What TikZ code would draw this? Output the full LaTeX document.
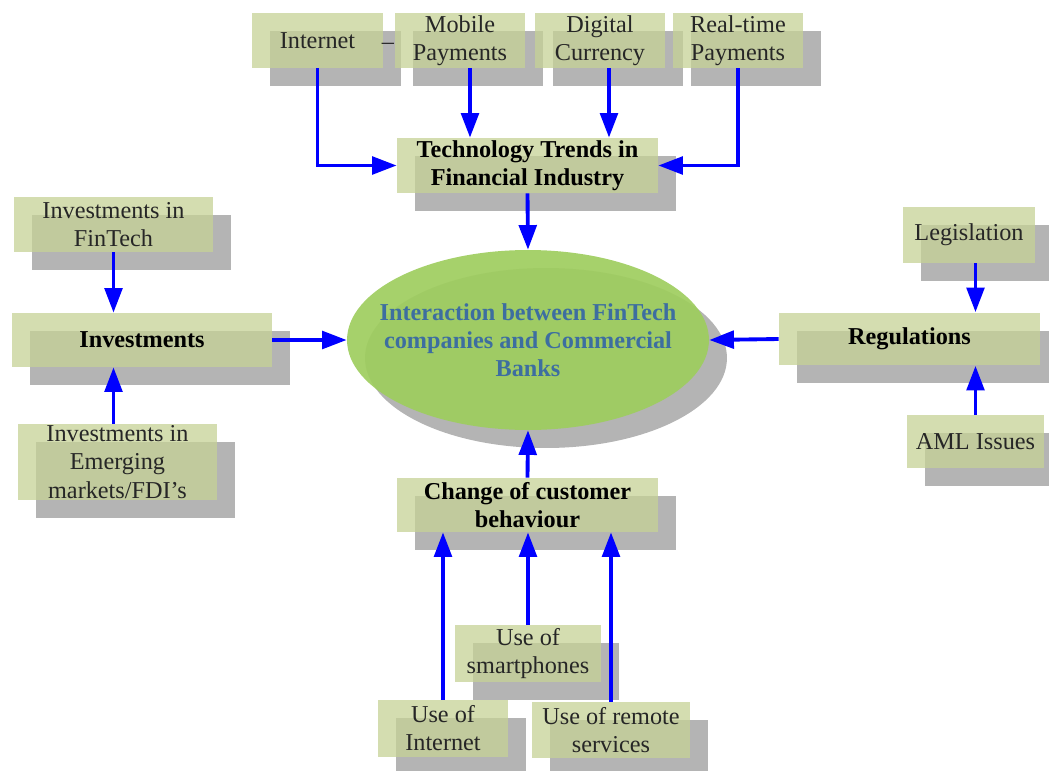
\documentclass[tikz,border=0pt]{standalone}
\usepackage{fontspec}
\setmainfont{Liberation Serif}
\usetikzlibrary{shapes.geometric, arrows.meta, shadows}
\definecolor{BoxGreen}{HTML}{C6D296}
\definecolor{ShadowGray}{HTML}{B4B4B4}
\definecolor{CoreGreen}{HTML}{9ECD5E}
\definecolor{CoreBlue}{HTML}{3D6EA0}
\definecolor{FlowBlue}{HTML}{0000FF}

\begin{document}
\begin{tikzpicture}[x=0.02cm, y=-0.02cm, font=\fontsize{13.8}{16}\selectfont,
    box/.style={fill=BoxGreen, fill opacity=0.75, text opacity=1, text=black!85,
      align=center, inner sep=0pt, minimum height=1.1cm,
      general shadow={fill=ShadowGray, fill opacity=1, shadow xshift=0.36cm, shadow yshift=-0.36cm}},
    hub/.style={box, text=black, font=\fontsize{13.8}{16}\selectfont\bfseries},
    core/.style={ellipse, fill=CoreGreen, fill opacity=0.92, inner sep=0pt,
      minimum width=7.24cm, minimum height=3.6cm,
      general shadow={fill=ShadowGray, fill opacity=1, shadow xshift=0.36cm, shadow yshift=-0.36cm}},
    flow/.style={draw=FlowBlue, line width=2.2pt, -{Triangle[length=14pt, width=10pt]}}]
  \path[use as bounding box, clip] (0,0) rectangle (1049,771);

  \node[box, minimum width=2.62cm] (internet) at (317.5,40.5) {Internet};
  \node[text=black!85, inner sep=0pt] (dash) at (388,46) {–};
  \node[box, minimum width=2.6cm] (mobile) at (460,40.5) {Mobile\\Payments};
  \node[box, minimum width=2.6cm] (digital) at (600,40.5) {Digital\\Currency};
  \node[box, minimum width=2.6cm] (realtime) at (738,40.5) {Real-time\\Payments};
  \node[hub, minimum width=5.22cm] (tech) at (527.5,165.5) {Technology Trends in\\Financial Industry};

  \node[core] (hubcore) at (528,340) {};
  \node[text=CoreBlue, align=center, font=\fontsize{13.8}{16}\selectfont\bfseries] (coretext) at (hubcore) {Interaction between FinTech\\companies and Commercial\\Banks};

  \node[box, minimum width=3.98cm] (fintech) at (113.5,224.5) {Investments in\\FinTech};
  \node[hub, minimum width=5.2cm, minimum height=1.08cm] (invest) at (142,340) {Investments};
  \node[box, minimum width=3.98cm, inner ysep=1pt] (emerging) at (117.5,462) {Investments in\\Emerging\\markets/FDI's};

  \node[box, minimum width=2.64cm, minimum height=1.12cm] (legislation) at (969,235) {Legislation};
  \node[hub, minimum width=5.22cm, minimum height=1.06cm] (reg) at (909.5,339) {Regulations};
  \node[box, minimum width=2.74cm, minimum height=1.06cm] (aml) at (975.5,441.5) {AML Issues};

  \node[hub, minimum width=5.22cm, minimum height=1.08cm] (change) at (527.5,505) {Change of customer\\behaviour};
  \node[box, minimum width=2.92cm, minimum height=1.14cm] (smart) at (528,653.5) {Use of\\smartphones};
  \node[box, minimum width=2.6cm, minimum height=1.14cm] (useinet) at (443,728.5) {Use of\\Internet};
  \node[box, minimum width=3.16cm, minimum height=1.12cm] (remote) at (611,730) {Use of remote\\services};

  \coordinate (mobileout) at ([xshift=0.2cm]mobile.south);
  \coordinate (digitalout) at ([xshift=0.18cm]digital.south);

  \draw[flow] (internet.south) |- (tech.west);
  \draw[flow] (mobileout) -- (mobileout |- tech.north);
  \draw[flow] (digitalout) -- (digitalout |- tech.north);
  \draw[flow] (realtime.south) |- (tech.east);
  \draw[flow] (tech.south) -- (hubcore.north);

  \draw[flow] (fintech.south) -- (fintech.south |- invest.north);
  \draw[flow] (emerging.north -| fintech.south) -- (fintech.south |- invest.south);
  \draw[flow] (invest.east) -- (hubcore.west);

  \draw[flow] (legislation.south -| aml.north) -- (aml.north |- reg.north);
  \draw[flow] (aml.north) -- (aml.north |- reg.south);
  \draw[flow] (reg.west) -- (hubcore.east);

  \draw[flow] (change.north) -- (hubcore.south);
  \draw[flow] (useinet.north) -- (useinet.north |- change.south);
  \draw[flow] (smart.north) -- (smart.north |- change.south);
  \draw[flow] (remote.north) -- (remote.north |- change.south);
\end{tikzpicture}
\end{document}
